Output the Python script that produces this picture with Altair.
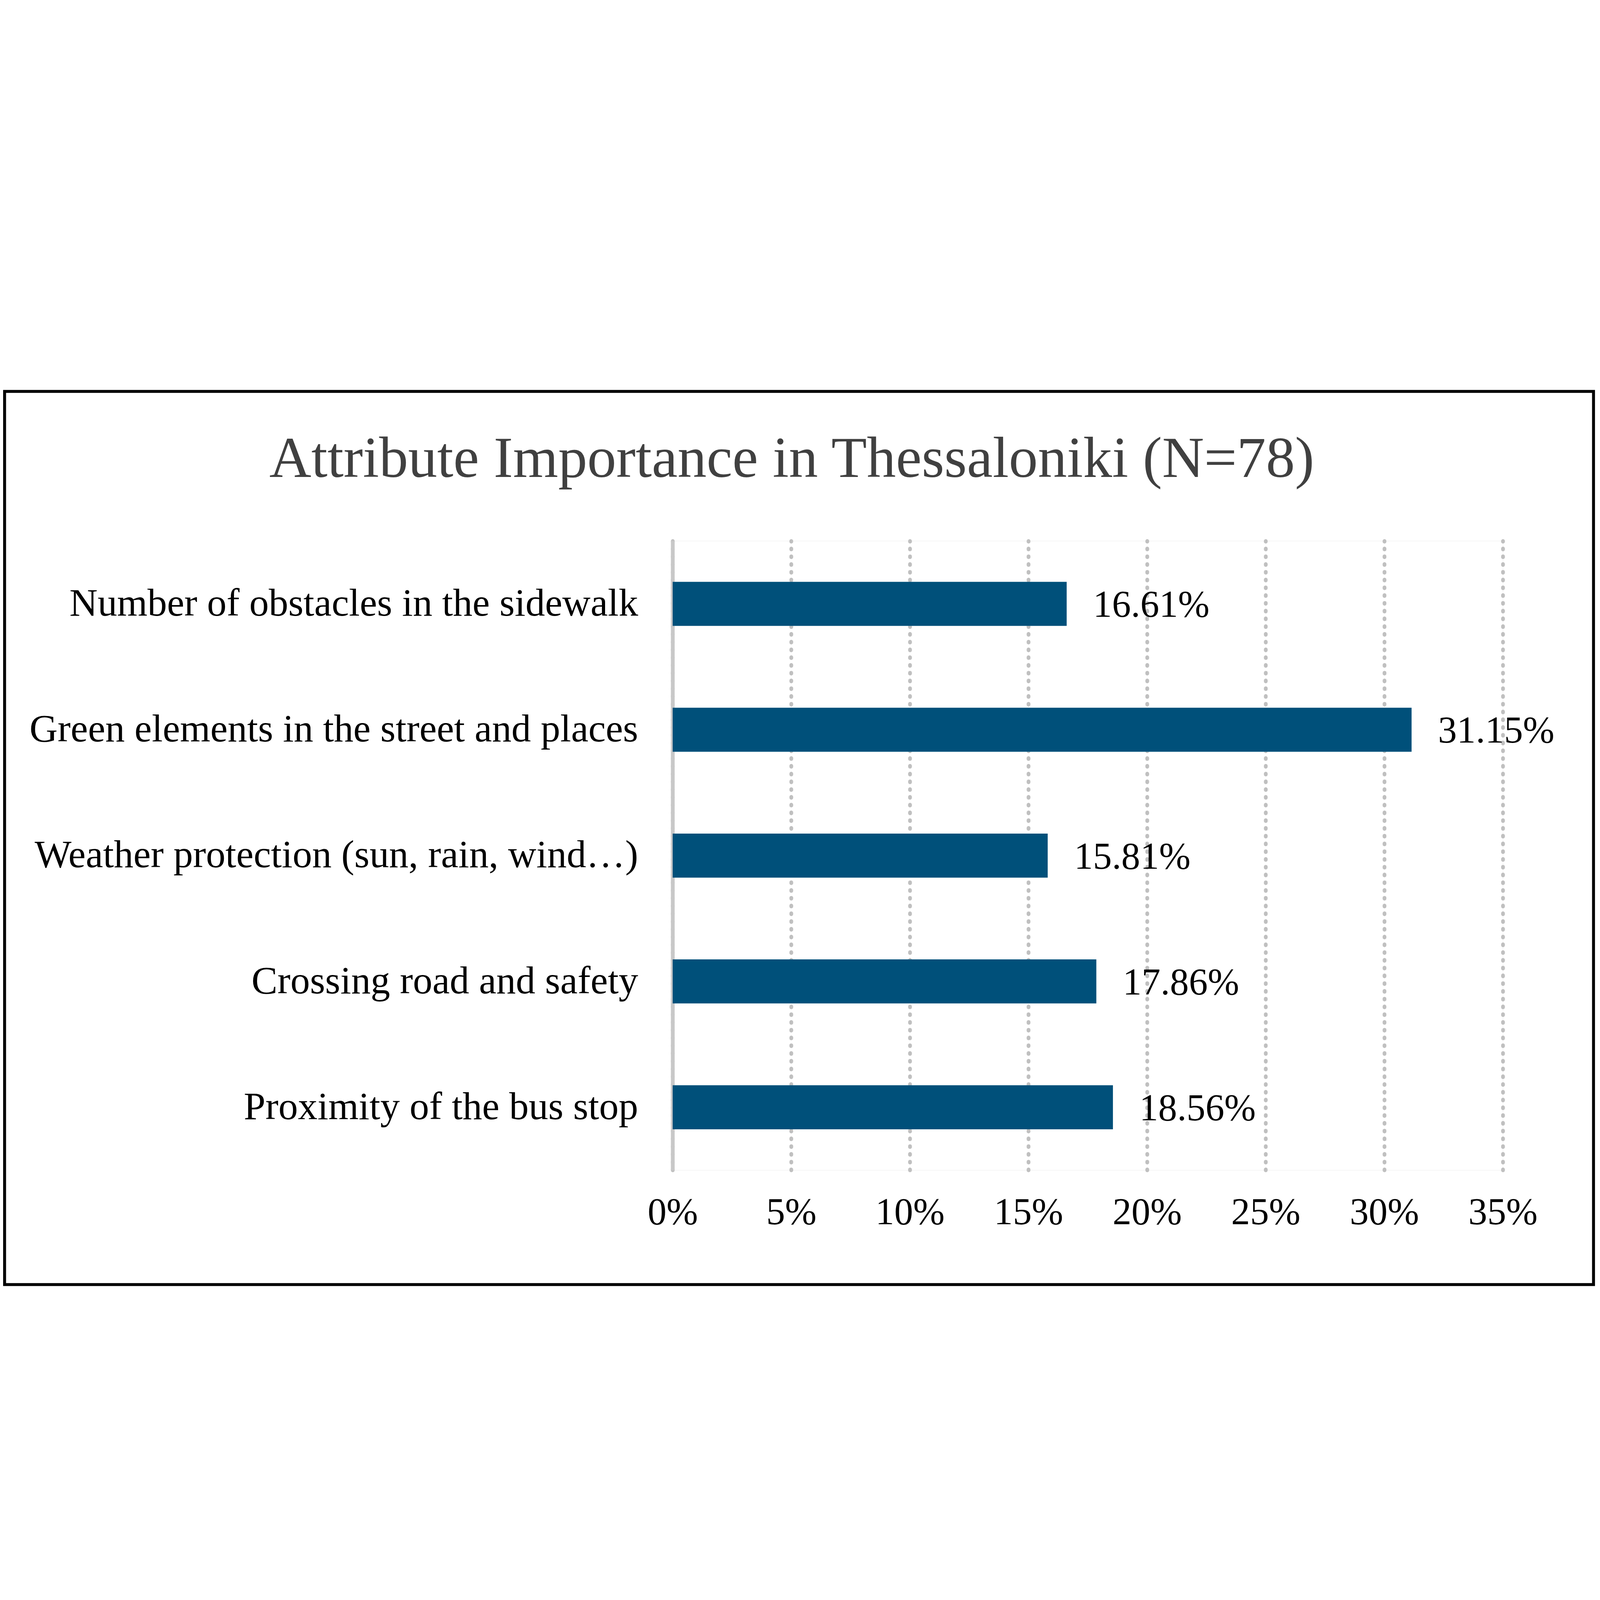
import altair as alt
import pandas as pd

categories = [
    "Number of obstacles in the sidewalk",
    "Green elements in the street and places",
    "Weather protection (sun, rain, wind…)",
    "Crossing road and safety",
    "Proximity of the bus stop",
]
values = [0.1661, 0.3115, 0.1581, 0.1786, 0.1856]
tick_values = [0, 0.05, 0.10, 0.15, 0.20, 0.25, 0.30, 0.35]
title_text = "Attribute Importance in Thessaloniki (N=78)"

FONT = "Palatino Linotype, Book Antiqua, Palatino, Liberation Serif, serif"
BAR_COLOR = "#00507A"

df = pd.DataFrame({"attribute": categories, "share": values})

y_enc = alt.Y(
    "attribute:N",
    sort=categories,
    title=None,
    scale=alt.Scale(paddingInner=0.65, paddingOuter=0.325),
    axis=alt.Axis(
        labelFont=FONT,
        labelFontSize=186,
        labelColor="#000000",
        labelPadding=165,
        labelLimit=0,
        ticks=False,
        tickSize=0,
        domainColor="#C8C8C8",
        domainWidth=18,
        grid=False,
    ),
)
x_enc = alt.X(
    "share:Q",
    title=None,
    scale=alt.Scale(domain=[0, 0.35], nice=False, zero=True),
    axis=alt.Axis(
        values=tick_values,
        format=".0%",
        labelFont=FONT,
        labelFontSize=180,
        labelColor="#000000",
        labelPadding=115,
        labelLimit=0,
        ticks=False,
        tickSize=0,
        domain=False,
        grid=True,
        gridColor="#C0C0C0",
        gridWidth=18,
        gridDash=[4, 33],
        gridCap="round",
        labelFlush=False,
    ),
)

bars = alt.Chart(df).mark_bar(color=BAR_COLOR).encode(x=x_enc, y=y_enc)

labels = alt.Chart(df).mark_text(
    align="left",
    baseline="middle",
    dx=126,
    dy=8,
    font=FONT,
    fontSize=180,
    color="#000000",
).encode(
    x=alt.X("share:Q"),
    y=alt.Y("attribute:N", sort=categories),
    text=alt.Text("share:Q", format=".2%"),
)

deco = pd.DataFrame({"t": [title_text]})

title_mark = alt.Chart(deco).mark_text(
    align="center",
    baseline="alphabetic",
    font=FONT,
    fontSize=277,
    color="#404040",
).encode(
    x=alt.value(568),
    y=alt.value(-305),
    text="t:N",
)

frame = alt.Chart(deco).mark_rect(
    fill=None, stroke="#000000", strokeWidth=14
).encode(
    x=alt.value(-3185),
    x2=alt.value(4390),
    y=alt.value(-713),
    y2=alt.value(3545),
)

chart = alt.layer(bars, labels, title_mark, frame).properties(
    width=3958,
    height=3000,
    autosize=alt.AutoSizeParams(type="none"),
    padding={"left": 3192, "top": 720, "right": 448, "bottom": 557},
).configure_view(stroke=None).configure(background="#FFFFFF")

chart.save("out.html", embed_options={"renderer": "svg", "actions": False})
